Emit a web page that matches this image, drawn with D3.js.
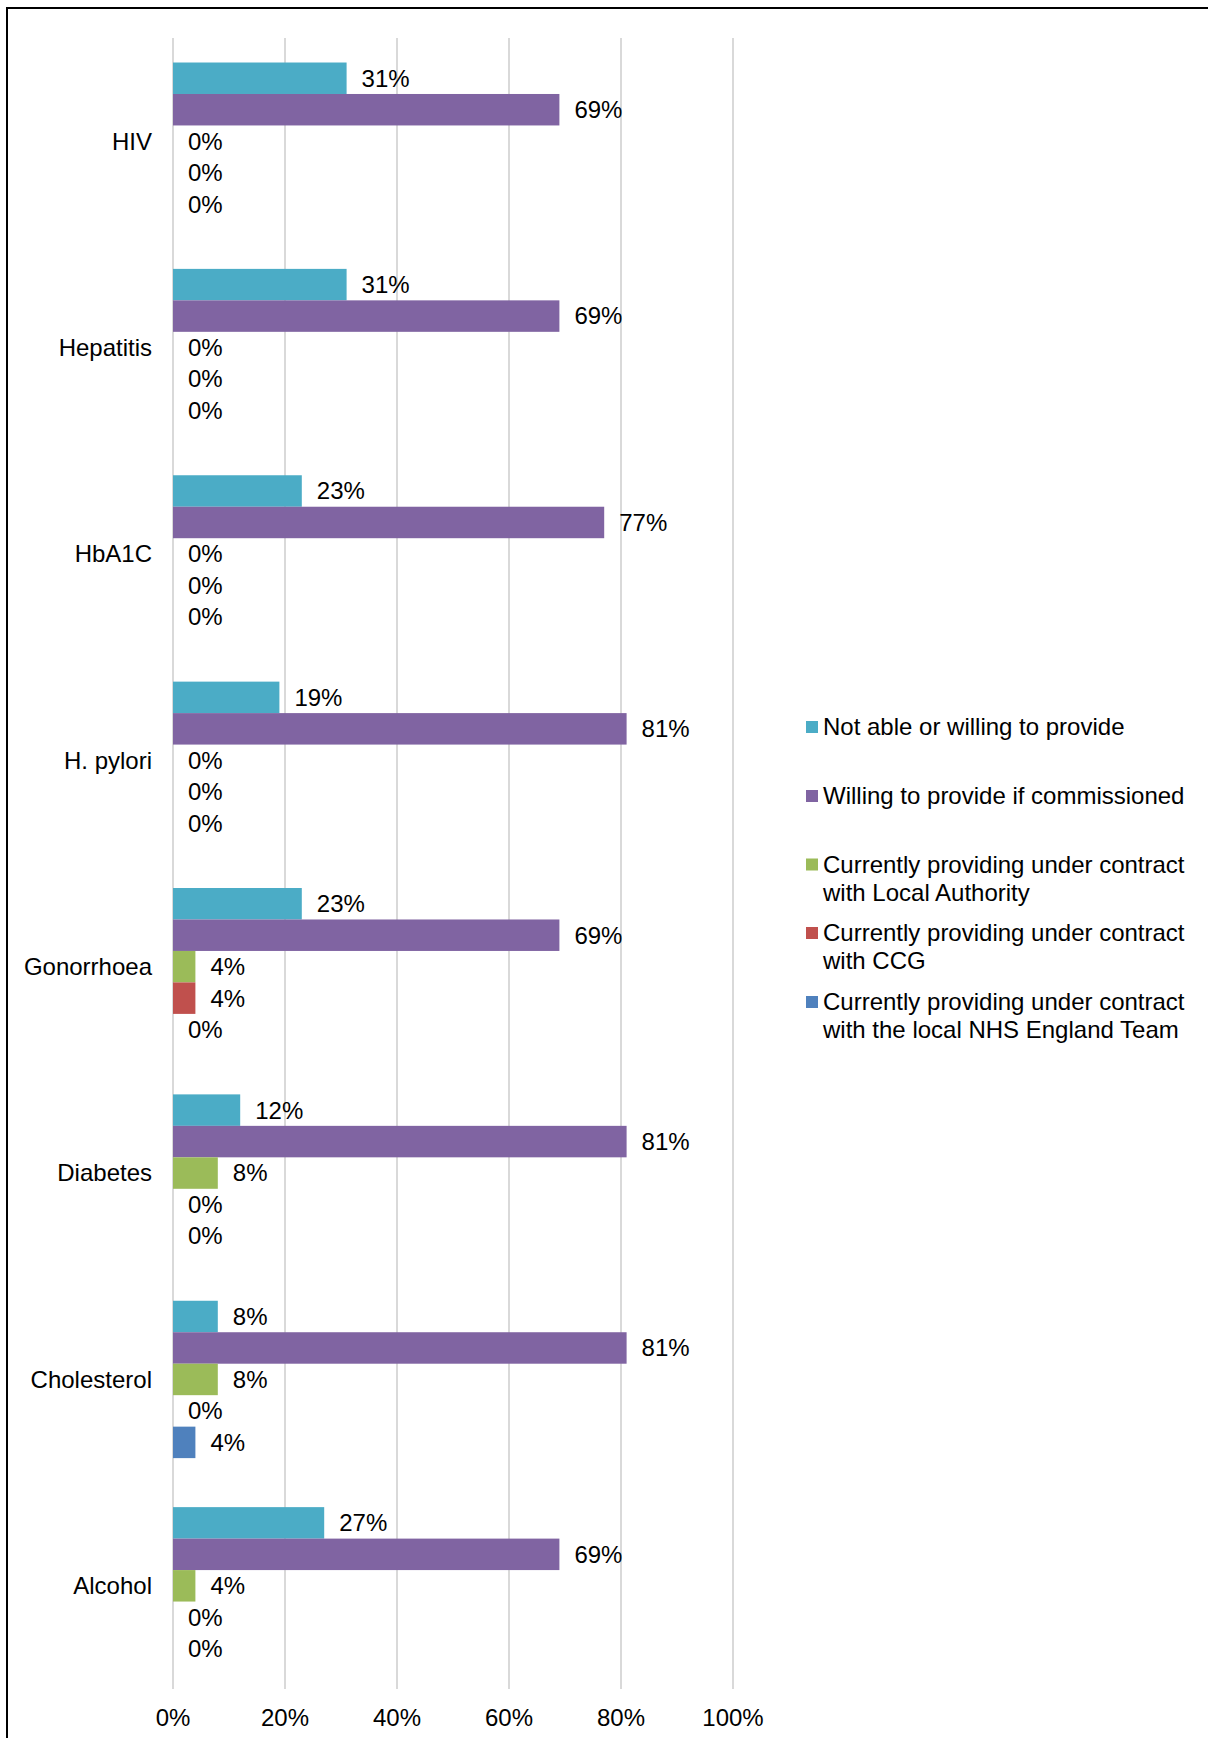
<!DOCTYPE html>
<html>
<head>
<meta charset="utf-8">
<script src="https://cdn.jsdelivr.net/npm/d3@7"></script>
<style>
  html, body { margin: 0; padding: 0; background: #fff; }
  svg { display: block; font-family: "Liberation Sans", Arial, sans-serif; }
</style>
</head>
<body>
<svg id="chart" width="1208" height="1738"></svg>
<script>
// ---- data ----
const categories = ["HIV", "Hepatitis", "HbA1C", "H. pylori", "Gonorrhoea", "Diabetes", "Cholesterol", "Alcohol"];
const series = ["notAble", "willing", "localAuthority", "ccg", "nhsEngland"];
const seriesLabels = [
  ["Not able or willing to provide"],
  ["Willing to provide if commissioned"],
  ["Currently providing under contract", "with Local Authority"],
  ["Currently providing under contract", "with CCG"],
  ["Currently providing under contract", "with the local NHS England Team"]
];
const notAble        = [31, 31, 23, 19, 23, 12, 8, 27];
const willing        = [69, 69, 77, 81, 69, 81, 81, 69];
const localAuthority = [0, 0, 0, 0, 4, 8, 8, 4];
const ccg            = [0, 0, 0, 0, 4, 0, 0, 0];
const nhsEngland     = [0, 0, 0, 0, 0, 0, 4, 0];
const seriesValues = [notAble, willing, localAuthority, ccg, nhsEngland];
const colors = ["#4BACC6", "#8064A2", "#9BBB59", "#C0504D", "#4F81BD"];
const tickValues = [0, 20, 40, 60, 80, 100];

// ---- layout ----
const svg = d3.select("#chart");
const FS = 24;
const x = d3.scaleLinear().domain([0, 100]).range([173, 733]);
const y0 = d3.scaleBand().domain(categories).range([38, 1689]).paddingInner(0.2375).paddingOuter(0.11875);
const y1 = d3.scaleBand().domain(series).range([0, y0.bandwidth()]);

// frame
svg.append("path")
  .attr("d", "M7,1738 V8 H1208")
  .attr("fill", "none").attr("stroke", "#000").attr("stroke-width", 2);

// gridlines
svg.append("g").selectAll("line").data(tickValues).join("line")
  .attr("x1", d => x(d)).attr("x2", d => x(d))
  .attr("y1", 38).attr("y2", 1689)
  .attr("stroke", "#D9D9D9").attr("stroke-width", 2);

// x tick labels
svg.append("g").selectAll("text").data(tickValues).join("text")
  .attr("x", d => x(d)).attr("y", 1718).attr("dy", "0.35em")
  .attr("text-anchor", "middle").attr("font-size", FS).attr("fill", "#000")
  .text(d => d + "%");

// data rows
const rows = [];
categories.forEach((c, ci) => {
  series.forEach((s, si) => {
    rows.push({ cat: c, ser: s, si: si, v: seriesValues[si][ci] });
  });
});

const g = svg.append("g");
g.selectAll("rect").data(rows).join("rect")
  .attr("x", x(0))
  .attr("y", d => y0(d.cat) + y1(d.ser))
  .attr("width", d => x(d.v) - x(0))
  .attr("height", y1.bandwidth())
  .attr("fill", d => colors[d.si]);

g.selectAll("text.val").data(rows).join("text").attr("class", "val")
  .attr("x", d => x(d.v) + 15)
  .attr("y", d => y0(d.cat) + y1(d.ser) + y1.bandwidth() / 2)
  .attr("dy", "0.35em")
  .attr("font-size", FS).attr("fill", "#000")
  .text(d => d.v + "%");

// category labels
svg.append("g").selectAll("text").data(categories).join("text")
  .attr("x", 152)
  .attr("y", d => y0(d) + y0.bandwidth() / 2)
  .attr("dy", "0.35em")
  .attr("text-anchor", "end").attr("font-size", FS).attr("fill", "#000")
  .text(d => d);

// legend
const legY = [727, 796, 864.5, 933, 1002];
const leg = svg.append("g");
seriesLabels.forEach((lines, i) => {
  const gy = legY[i];
  leg.append("rect").attr("x", 806).attr("y", gy - 6).attr("width", 12).attr("height", 12).attr("fill", colors[i]);
  lines.forEach((ln, j) => {
    leg.append("text").attr("x", 823).attr("y", gy + j * 27.7).attr("dy", "0.35em")
      .attr("font-size", FS).attr("fill", "#000").text(ln);
  });
});
</script>
</body>
</html>
